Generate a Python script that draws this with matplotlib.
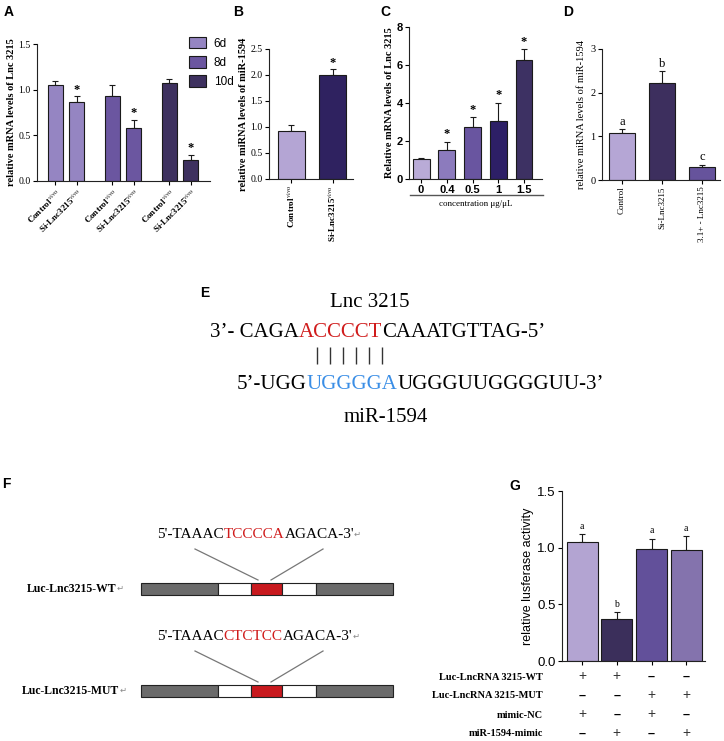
import numpy as np
import matplotlib
matplotlib.use('Agg')
import matplotlib.pyplot as plt
from matplotlib.transforms import blended_transform_factory

plt.rcParams['font.family'] = ['Liberation Serif', 'DejaVu Sans']
plt.rcParams['mathtext.fontset'] = 'stix'
plt.rcParams['axes.edgecolor'] = '#222222'

W, H = 724, 741
SANS = ['Liberation Sans', 'DejaVu Sans']

# ---- data ----
a_groups = ['6d', '8d', '10d']
a_labels = ['Control$^{\\rm vivo}$', 'Si-Lnc3215$^{\\rm vivo}$']
a_ctrl = [1.05, 0.93, 1.07]
a_ctrl_err = [0.05, 0.12, 0.05]
a_si = [0.87, 0.58, 0.23]
a_si_err = [0.06, 0.09, 0.06]
a_colors = ['#9585c2', '#6b56a0', '#3e315f']

b_labels = ['Control$^{\\rm vivo}$', 'Si-Lnc3215$^{\\rm vivo}$']
b_vals = [0.92, 2.0]
b_err = [0.11, 0.12]
b_colors = ['#b4a5d4', '#2f2260']

c_labels = ['0', '0.4', '0.5', '1', '1.5']
c_vals = [1.07, 1.52, 2.75, 3.05, 6.28]
c_err = [0.05, 0.45, 0.5, 0.95, 0.55]
c_sig = [False, True, True, True, True]
c_colors = ['#b9abd7', '#8c7bbd', '#6955a0', '#2d1f66', '#3d3163']

d_labels = ['Control', 'Si-Lnc3215', '3.1+ - Lnc3215']
d_vals = [1.07, 2.22, 0.30]
d_err = [0.10, 0.28, 0.05]
d_letters = ['a', 'b', 'c']
d_colors = ['#b5a6d5', '#3d2f5e', '#66539c']

g_vals = [1.05, 0.37, 0.99, 0.98]
g_err = [0.07, 0.06, 0.09, 0.12]
g_letters = ['a', 'b', 'a', 'a']
g_colors = ['#b3a4d2', '#3b2f5b', '#62509a', '#8473ad']
g_rows = ['Luc-LncRNA 3215-WT', 'Luc-LncRNA 3215-MUT', 'mimic-NC', 'miR-1594-mimic']
g_signs = [['+', '+', '-', '-'],
           ['-', '-', '+', '+'],
           ['+', '-', '+', '-'],
           ['-', '+', '-', '+']]

e_top = [("3’- CAGA", 'black'), ("ACCCCT", '#d01c1c'), ("CAAATGTTAG-5’", 'black')]
e_bottom = [("5’-UGG", 'black'), ("UGGGGA", '#3a8ee6'), ("UGGGUUGGGGUU-3’", 'black')]
f_wt = [("5'-TAAAC", 'black'), ("TCCCCA", '#d01c1c'), ("AGACA-3'", 'black')]
f_mut = [("5'-TAAAC", 'black'), ("CTCTCC", '#d01c1c'), ("AGACA-3'", 'black')]
f_seg_len = [77, 33, 31, 34, 77]
f_seg_col = ['#6b6b6b', 'white', '#c8191e', 'white', '#6b6b6b']


fig = plt.figure(figsize=(W / 100, H / 100), dpi=100)
ov = fig.add_axes([0, 0, 1, 1])
ov.set_xlim(0, W)
ov.set_ylim(H, 0)
ov.axis('off')


def box(x0, y0, x1, y1):
    return fig.add_axes([x0 / W, 1 - y1 / H, (x1 - x0) / W, (y1 - y0) / H])


def frame(ax, ymax, yticks, xlim):
    for s in ('top', 'right'):
        ax.spines[s].set_visible(False)
    for s in ('left', 'bottom'):
        ax.spines[s].set_linewidth(0.8)
    ax.set_ylim(0, ymax)
    ax.set_yticks(yticks)
    ax.set_xlim(*xlim)
    ax.tick_params(axis='both', length=3, width=0.8, pad=1.5)
    ax.patch.set_alpha(0)


def bars(ax, x, vals, errs, colors, width, label=None):
    ax.bar(x, vals, width, color=colors, edgecolor='#1a1a1a', linewidth=0.8,
           zorder=2, label=label)
    ax.errorbar(x, vals, yerr=[np.zeros(len(vals)), errs], fmt='none',
                ecolor='#1a1a1a', elinewidth=0.8, capsize=2.5, capthick=0.8, zorder=1)


def seq(x, y, parts, size, weight='normal'):
    t = ov.text(x, y, parts[0][0], color=parts[0][1], fontsize=size,
                va='bottom', ha='left', fontweight=weight)
    for s, c in parts[1:]:
        t = ov.annotate(s, xy=(1, 0), xycoords=t, color=c, fontsize=size,
                        va='bottom', ha='left', fontweight=weight)
    return t


def enter_mark(t):
    ov.annotate('↵', xy=(1, 0.15), xycoords=t, color='#888888', fontsize=6,
                va='bottom', ha='left', family='DejaVu Sans')


# ---------- A ----------
axA = box(37, 44, 210, 181)
a_off = [0, 2.65, 5.3]
a_ticks, a_ticklabels = [], []
for i, g in enumerate(a_groups):
    xs = np.array([0, 1]) + a_off[i]
    bars(axA, xs, [a_ctrl[i], a_si[i]], [a_ctrl_err[i], a_si_err[i]], a_colors[i], 0.7, label=g)
    axA.text(xs[1], a_si[i] + a_si_err[i] + 0.07, '*', ha='center', va='center',
             fontsize=9, fontweight='bold')
    a_ticks += list(xs)
    a_ticklabels += a_labels
frame(axA, 1.5, [0, 0.5, 1.0, 1.5], (-0.84, 7.2))
axA.set_yticklabels(['0.0', '0.5', '1.0', '1.5'], fontsize=7)
axA.set_xticks(a_ticks)
axA.set_xticklabels(a_ticklabels, rotation=45, ha='right', rotation_mode='anchor',
                    fontsize=6.5, fontweight='bold')
axA.set_ylabel('relative mRNA levels of Lnc 3215', fontsize=7.5, fontweight='bold', labelpad=2)
axA.legend(loc='upper left', bbox_to_anchor=(189 / W, 1 - 37 / H), bbox_transform=fig.transFigure,
           frameon=False, prop={'family': SANS, 'size': 8.5}, handlelength=1.4,
           handleheight=1.1, labelspacing=0.55, handletextpad=0.7, borderaxespad=0, borderpad=0)

# ---------- B ----------
axB = box(269, 49, 353, 179)
xb = np.arange(len(b_vals))
bars(axB, xb, b_vals, b_err, b_colors, 0.65)
axB.text(xb[1], b_vals[1] + b_err[1] + 0.12, '*', ha='center', va='center', fontsize=9, fontweight='bold')
frame(axB, 2.5, [0, 0.5, 1.0, 1.5, 2.0, 2.5], (-0.54, 1.49))
axB.set_yticklabels(['0.0', '0.5', '1.0', '1.5', '2.0', '2.5'], fontsize=7)
axB.set_xticks(xb)
axB.set_xticklabels(b_labels, rotation=90, fontsize=6.5, fontweight='bold')
axB.set_ylabel('relative miRNA levels of miR-1594', fontsize=7.5, fontweight='bold', labelpad=2)

# ---------- C ----------
axC = box(409, 27, 542, 179)
xc = np.arange(len(c_vals))
bars(axC, xc, c_vals, c_err, c_colors, 0.66)
for x, v, e, s in zip(xc, c_vals, c_err, c_sig):
    if s:
        axC.text(x, v + e + 0.4, '*', ha='center', va='center', fontsize=9, fontweight='bold')
frame(axC, 8, [0, 2, 4, 6, 8], (-0.47, 4.7))
axC.set_yticklabels(['0', '2', '4', '6', '8'], fontsize=8, family=SANS, fontweight='bold')
axC.set_xticks(xc)
axC.set_xticklabels(c_labels, fontsize=8, family=SANS, fontweight='bold')
axC.set_ylabel('Relative mRNA levels of Lnc 3215', fontsize=7.5, fontweight='bold', labelpad=2)
ov.plot([410, 543], [195, 195], color='#555555', lw=1)
ov.text(476, 204, 'concentration μg/μL', ha='center', va='center', fontsize=6.5)

# ---------- D ----------
axD = box(602, 49, 720, 180)
xd = np.arange(len(d_vals))
bars(axD, xd, d_vals, d_err, d_colors, 0.66)
for x, v, e, l in zip(xd, d_vals, d_err, d_letters):
    axD.text(x, v + e + 0.03, l, ha='center', va='bottom', fontsize=9)
frame(axD, 3, [0, 1, 2, 3], (-0.5, 2.45))
axD.set_yticklabels(['0', '1', '2', '3'], fontsize=7.5)
axD.set_xticks(xd)
axD.set_xticklabels(d_labels, rotation=90, fontsize=6.5)
axD.set_ylabel('relative miRNA levels of miR-1594', fontsize=7.5, labelpad=3)

# ---------- E ----------
ov.text(370, 307, 'Lnc 3215', ha='center', va='baseline', fontsize=15)
seq(210, 342, e_top, 15)
ov.vlines(317 + 13 * np.arange(6), 347, 364, color='#333333', lw=1)
seq(237, 394, e_bottom, 15)
ov.text(386, 422, 'miR-1594', ha='center', va='baseline', fontsize=15)

# ---------- F ----------
for seq_parts, seq_y, bar_y, name, name_x in [(f_wt, 541, 589, 'Luc-Lnc3215-WT', 27),
                                              (f_mut, 643, 691, 'Luc-Lnc3215-MUT', 22)]:
    t = seq(157, seq_y, seq_parts, 11)
    enter_mark(t)
    lefts = 141 + np.concatenate([[0], np.cumsum(f_seg_len)[:-1]])
    ov.barh([bar_y] * len(f_seg_len), f_seg_len, left=lefts, height=12,
            color=f_seg_col, edgecolor='#222222', linewidth=0.8)
    ov.plot([195, 258], [bar_y - 40, bar_y - 9], color='#777777', lw=0.9)
    ov.plot([323, 271], [bar_y - 40, bar_y - 9], color='#777777', lw=0.9)
    t = ov.text(name_x, bar_y, name, ha='left', va='center', fontsize=8.5, fontweight='bold')
    enter_mark(t)

# ---------- G ----------
axG = box(562, 491, 705, 661)
xg = np.arange(len(g_vals))
bars(axG, xg, g_vals, g_err, g_colors, 0.9)
for x, v, e, l in zip(xg, g_vals, g_err, g_letters):
    axG.text(x, v + e + 0.03, l, ha='center', va='bottom', fontsize=7)
frame(axG, 1.5, [0, 0.5, 1.0, 1.5], (-0.58, 3.54))
axG.set_yticklabels(['0.0', '0.5', '1.0', '1.5'], fontsize=9.5, family=SANS)
axG.set_xticks(xg)
axG.set_xticklabels([])
axG.set_ylabel('relative lusferase activity', fontsize=9, family=SANS, labelpad=2)
tr = blended_transform_factory(axG.transData, ov.transData)
for r, (lab, signs) in enumerate(zip(g_rows, g_signs)):
    y = 677 + 19 * r
    ov.text(543, y, lab, ha='right', va='center', fontsize=7.5, fontweight='bold')
    for x, s in zip(xg, signs):
        if s == '+':
            ov.text(x, y - 1, '+', transform=tr, ha='center', va='center', fontsize=10,
                    family=SANS, color='#333333')
        else:
            ov.text(x, y, '–', transform=tr, ha='center', va='center', fontsize=9,
                    family=SANS, fontweight='bold')

# ---------- panel letters ----------
for lab, x, y in [('A', 4, 5), ('B', 233, 5), ('C', 380, 5), ('D', 563, 5),
                  ('E', 200, 286), ('F', 2, 477), ('G', 509, 479)]:
    ov.text(x, y, lab, ha='left', va='top', fontsize=10, fontweight='bold', family=SANS)

fig.savefig('out.png', dpi=100)
